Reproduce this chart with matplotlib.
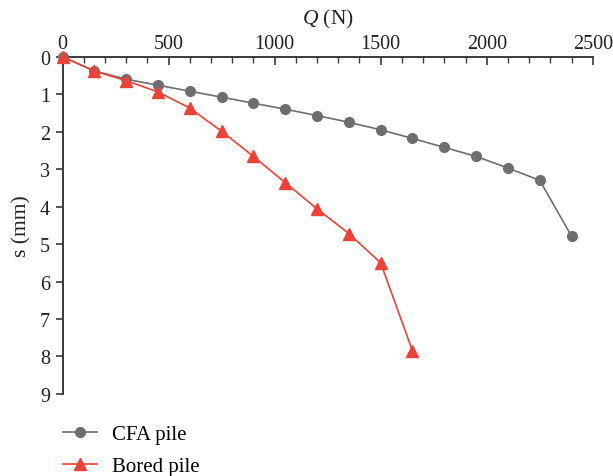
import matplotlib.pyplot as plt
from matplotlib.ticker import MultipleLocator

plt.rcParams['font.family'] = 'Liberation Serif'
plt.rcParams['mathtext.fontset'] = 'custom'
plt.rcParams['mathtext.rm'] = 'Liberation Serif'
plt.rcParams['mathtext.it'] = 'Liberation Serif:italic'

# load steps (N) and settlements (mm)
cfa_load = [0, 150, 300, 450, 600, 750, 900, 1050, 1200, 1350, 1500,
            1650, 1800, 1950, 2100, 2250, 2400]
cfa_settle = [0, 0.38, 0.60, 0.76, 0.92, 1.08, 1.24, 1.40, 1.57, 1.75, 1.95,
              2.18, 2.42, 2.66, 2.97, 3.30, 4.79]

bored_load = [0, 150, 300, 450, 600, 750, 900, 1050, 1200, 1350, 1500, 1650]
bored_settle = [0, 0.38, 0.64, 0.94, 1.37, 1.99, 2.66, 3.36, 4.06, 4.72, 5.50, 7.85]

gray = '#6d6e71'
red = '#ef4136'
axis_col = '#3a3a3a'
text_col = '#222222'

fig = plt.figure(figsize=(6.13, 4.77), dpi=100)
ax = fig.add_axes([0.102, 0.172, 0.865, 0.707])

ax.plot(cfa_load, cfa_settle, color=gray, lw=1.2, marker='o', ms=7,
        label='CFA pile', clip_on=False, zorder=3)
ax.plot(bored_load, bored_settle, color=red, lw=1.2, marker='^', ms=8.5,
        label='Bored pile', clip_on=False, zorder=4)

ax.set_xlim(0, 2500)
ax.set_ylim(9, 0)

# x axis on top, ticks pointing down into the plot
ax.xaxis.set_ticks_position('top')
ax.xaxis.set_label_position('top')
ax.xaxis.set_major_locator(MultipleLocator(500))
ax.xaxis.set_minor_locator(MultipleLocator(100))
ax.yaxis.set_major_locator(MultipleLocator(1))
ax.tick_params(axis='x', which='major', direction='in', length=6, width=1.2,
               color=axis_col, labelsize=14.5, pad=3, labelcolor=text_col)
ax.tick_params(axis='x', which='minor', direction='in', length=4, width=1.0,
               color=axis_col)
ax.tick_params(axis='y', which='major', direction='out', length=5, width=1.2,
               color=axis_col, labelsize=14.5, pad=4, labelcolor=text_col)

for side in ['right', 'bottom']:
    ax.spines[side].set_visible(False)
for side in ['top', 'left']:
    ax.spines[side].set_color(axis_col)
    ax.spines[side].set_linewidth(1.4)

ax.set_xlabel('$Q$ (N)', fontsize=15.5, color=text_col, labelpad=7)
ax.set_ylabel('s (mm)', fontsize=15.5, color=text_col, labelpad=6)

fig.legend(loc='upper left', bbox_to_anchor=(0.089, 0.125), frameon=False,
           fontsize=15, handlelength=1.65, handletextpad=0.7,
           labelspacing=0.6, borderaxespad=0)

fig.savefig('out.png', dpi=100)
